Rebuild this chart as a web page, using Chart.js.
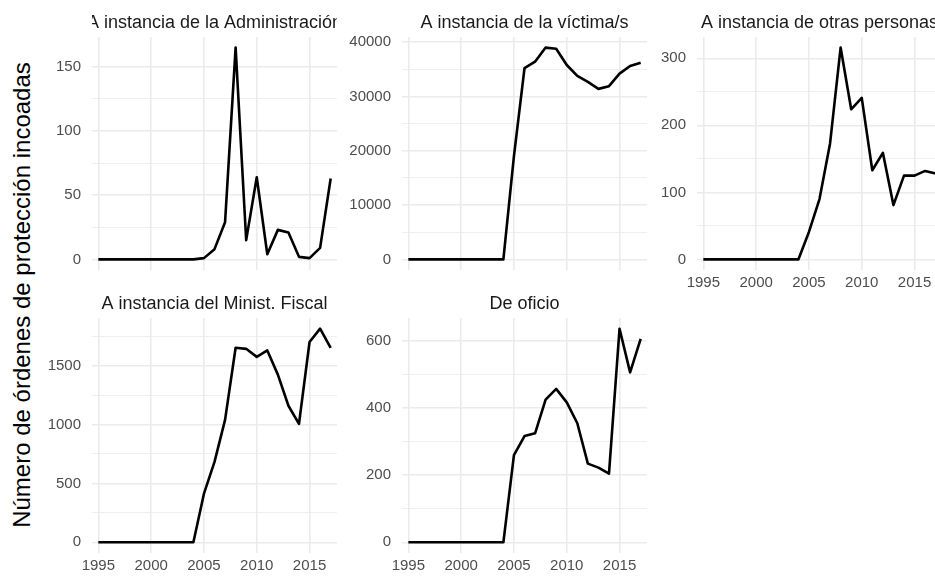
<!DOCTYPE html>
<html><head><meta charset="utf-8">
<script src="https://cdn.jsdelivr.net/npm/chart.js@4/dist/chart.umd.min.js"></script>
<style>
html,body{margin:0;padding:0;width:935px;height:576px;overflow:hidden;background:#fff;position:relative}
canvas{position:absolute;display:block}
#ytitle{position:absolute;left:22px;top:295px;transform:translate(-50%,-50%) rotate(-90deg);font:24px "Liberation Sans",Arial,sans-serif;white-space:nowrap;color:#000}
</style></head><body>
<div id="ytitle">Número de órdenes de protección incoadas</div>
<script>
// ---- data ----
const years = [1995,1996,1997,1998,1999,2000,2001,2002,2003,2004,2005,2006,2007,2008,2009,2010,2011,2012,2013,2014,2015,2016,2017];
const xTicks = [1995,2000,2005,2010,2015];
const titles = ["A instancia de la Administración","A instancia de la víctima/s","A instancia de otras personas","A instancia del Minist. Fiscal","De oficio"];
const administracion = [0,0,0,0,0,0,0,0,0,0,1,8,29,165,15,64,4,23,21,2,1,9,63];
const victima = [0,0,0,0,0,0,0,0,0,0,19000,35200,36400,39000,38800,35800,33800,32700,31400,31900,34200,35600,36200];
const otras = [0,0,0,0,0,0,0,0,0,0,41,90,173,316,224,241,133,159,81,125,125,132,128];
const fiscal = [0,0,0,0,0,0,0,0,0,0,413,683,1039,1651,1642,1574,1628,1423,1159,1005,1700,1813,1651];
const oficio = [0,0,0,0,0,0,0,0,0,0,259,316,324,424,456,416,354,234,222,204,635,505,605];
const yStepAdministracion = 50, yStepVictima = 10000, yStepOtras = 100, yStepFiscal = 500, yStepOficio = 200;

// ---- layout ----
const AXW = 80, TOP = 38, AXH = 30, XPAD = 0.6;
const panels = [
  {vals: administracion, step: yStepAdministracion, title: titles[0], L: 92, T: 37, W: 245, H: 233, xlab: false},
  {vals: victima, step: yStepVictima, title: titles[1], L: 402, T: 37, W: 245, H: 233, xlab: false},
  {vals: otras, step: yStepOtras, title: titles[2], L: 697, T: 37, W: 245, H: 233, xlab: true},
  {vals: fiscal, step: yStepFiscal, title: titles[3], L: 92, T: 318, W: 245, H: 235, xlab: true},
  {vals: oficio, step: yStepOficio, title: titles[4], L: 402, T: 318, W: 245, H: 235, xlab: true}
];

const FONT = '"Liberation Sans", Arial, sans-serif';
const stripTitle = {
  id: 'strip',
  afterDraw(chart, args, opts) {
    const {ctx, chartArea: a} = chart;
    ctx.save();
    ctx.beginPath();
    ctx.rect(a.left, 0, a.right - a.left, a.top);
    ctx.clip();
    ctx.font = '18px ' + FONT;
    ctx.fillStyle = '#1a1a1a';
    ctx.textAlign = 'center';
    ctx.textBaseline = 'alphabetic';
    ctx.fillText(opts.text, (a.left + a.right) / 2, a.top - 9.5);
    ctx.restore();
  }
};

panels.forEach(p => {
  const cv = document.createElement('canvas');
  const cw = p.W + AXW + 2, ch = p.H + TOP + AXH;
  cv.width = cw; cv.height = ch;
  cv.style.left = (p.L - AXW) + 'px';
  cv.style.top = (p.T - TOP) + 'px';
  cv.style.width = cw + 'px'; cv.style.height = ch + 'px';
  document.body.appendChild(cv);

  const vmax = Math.max(...p.vals);
  const half = p.step / 2;

  new Chart(cv, {
    type: 'line',
    data: {
      datasets: [{
        data: years.map((y, i) => ({x: y, y: p.vals[i]})),
        borderColor: '#000000',
        borderWidth: 2.6,
        borderJoinStyle: 'round',
        pointRadius: 0,
        tension: 0,
        fill: false
      }]
    },
    options: {
      responsive: false,
      animation: false,
      devicePixelRatio: 1,
      layout: {padding: {top: TOP, left: 0, right: 2, bottom: 0}},
      plugins: {legend: {display: false}, tooltip: {enabled: false}, title: {display: false}, strip: {text: p.title}},
      scales: {
        x: {
          type: 'linear',
          min: years[0] - XPAD,
          max: years[years.length - 1] + XPAD,
          afterBuildTicks: s => { s.ticks = xTicks.map(v => ({value: v})); },
          afterFit: s => { s.height = AXH; },
          border: {display: false},
          grid: {color: '#EBEBEB', lineWidth: 1.6, drawTicks: false},
          ticks: {
            display: p.xlab, padding: 4, color: '#4D4D4D', maxRotation: 0, autoSkip: false,
            font: {family: FONT, size: 15},
            callback: v => String(v)
          }
        },
        y: {
          type: 'linear',
          min: -0.05 * vmax,
          max: 1.05 * vmax,
          afterBuildTicks: s => {
            const t = [];
            for (let v = 0; v <= 1.05 * vmax; v += half) t.push({value: v});
            s.ticks = t;
          },
          afterFit: s => { s.width = AXW; },
          border: {display: false},
          grid: {
            drawTicks: false,
            color: '#EBEBEB',
            lineWidth: c => (c.tick && c.tick.value % p.step === 0) ? 1.6 : 0.8
          },
          ticks: {
            padding: 11, color: '#4D4D4D', autoSkip: false,
            font: {family: FONT, size: 15},
            callback: v => (v % p.step === 0) ? String(v) : ''
          }
        }
      }
    },
    plugins: [stripTitle]
  });
});
</script>
</body></html>
